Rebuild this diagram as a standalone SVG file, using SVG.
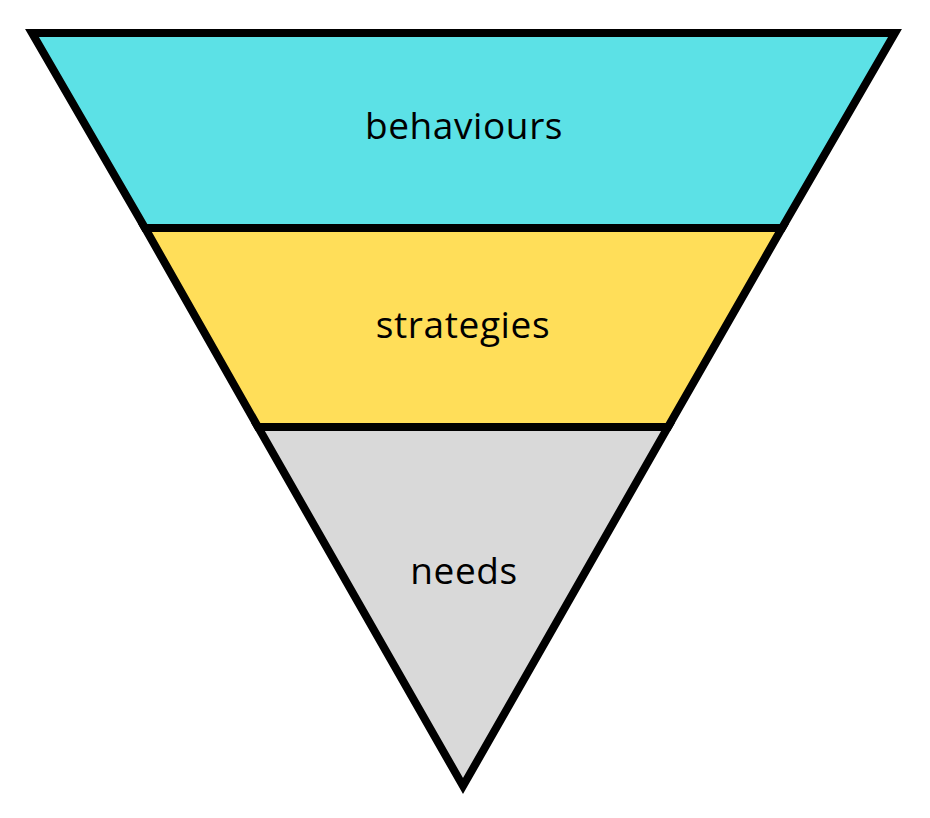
<svg xmlns="http://www.w3.org/2000/svg" width="930" height="818" viewBox="0 0 930 818">
<style>
.band{stroke:#000;stroke-width:8;stroke-linejoin:miter;stroke-miterlimit:10}
.lbl{font-family:"Open Sans","Noto Sans",sans-serif;font-size:37px;letter-spacing:0.6px;fill:#000;text-anchor:middle}
</style>
<rect width="930" height="818" fill="#fff"/>
<g id="needs">
<polygon class="band" fill="#D9D9D9" points="258,427 668,427 463,786"/>
<text class="lbl" x="464" y="584">needs</text>
</g>
<g id="strategies">
<polygon class="band" fill="#FFDE59" points="145,228 782,228 668,427 258,427"/>
<text class="lbl" x="463" y="338">strategies</text>
</g>
<g id="behaviours">
<polygon class="band" fill="#5CE1E6" points="32,33 895,33 782,228 145,228"/>
<text class="lbl" x="464" y="139">behaviours</text>
</g>
<g id="connectors"/>
</svg>
